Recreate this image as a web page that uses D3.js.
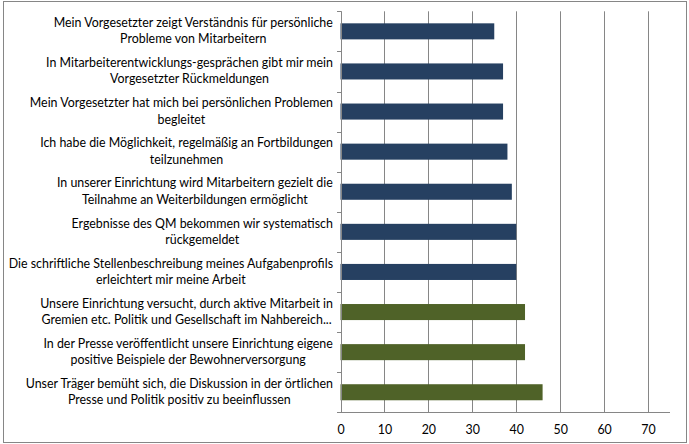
<!DOCTYPE html>
<html><head><meta charset="utf-8">
<script src="https://cdn.jsdelivr.net/npm/d3@7"></script>
<style>body{margin:0;background:#fff}svg{display:block}text{font-family:Lato,"Open Sans",sans-serif;fill:#000}</style>
</head><body>
<svg id="c" width="689" height="444"></svg>
<script>
const labelLines = [
  ["Mein Vorgesetzter zeigt Verständnis für persönliche","Probleme von Mitarbeitern"],
  ["In Mitarbeiterentwicklungs-gesprächen gibt mir mein","Vorgesetzter Rückmeldungen"],
  ["Mein Vorgesetzter hat mich bei persönlichen Problemen","begleitet"],
  ["Ich habe die Möglichkeit, regelmäßig an Fortbildungen","teilzunehmen"],
  ["In unserer Einrichtung wird Mitarbeitern gezielt die","Teilnahme an Weiterbildungen ermöglicht"],
  ["Ergebnisse des QM bekommen wir systematisch","rückgemeldet"],
  ["Die schriftliche Stellenbeschreibung meines Aufgabenprofils","erleichtert mir meine Arbeit"],
  ["Unsere Einrichtung versucht, durch aktive Mitarbeit in","Gremien etc. Politik und Gesellschaft im Nahbereich..."],
  ["In der Presse veröffentlicht unsere Einrichtung eigene","positive Beispiele der Bewohnerversorgung"],
  ["Unser Träger bemüht sich, die Diskussion in der örtlichen","Presse und Politik positiv zu beeinflussen"]
];
const values = [35, 37, 37, 38, 39, 40, 40, 42, 42, 46];
const groups = ["a","a","a","a","a","a","a","b","b","b"];
const xTicks = [0,10,20,30,40,50,60,70];
const xMax = 75;

const svg = d3.select("#c");
const L = 340.5, R = 670, T = 11.3, B = 412.3;
const ids = d3.range(values.length);
const x = d3.scaleLinear().domain([0, xMax]).range([L, R]);
const y = d3.scaleBand().domain(ids).range([T, B]).paddingInner(0.6).paddingOuter(0.3);
const color = d3.scaleOrdinal().domain(["a","b"]).range(["#264061","#4F6228"]);
const grey = "#868686";

svg.append("rect").attr("x",3.5).attr("y",1.5).attr("width",683).attr("height",441)
  .attr("fill","#fff").attr("stroke",grey).attr("stroke-width",1);

// gridlines
svg.append("g").selectAll("line").data(xTicks.filter(d=>d>0)).join("line")
  .attr("x1",d=>Math.round(x(d))+0.5).attr("x2",d=>Math.round(x(d))+0.5)
  .attr("y1",T).attr("y2",B).attr("stroke",grey).attr("stroke-width",1);

// bars
svg.append("g").selectAll("rect").data(ids).join("rect")
  .attr("x",x(0)).attr("y",i=>y(i)).attr("width",i=>x(values[i])-x(0))
  .attr("height",y.bandwidth()).attr("fill",i=>color(groups[i]));

// x axis
const xa = svg.append("g").attr("transform",`translate(0,${Math.round(B)+0.5})`)
  .call(d3.axisBottom(x).tickValues(xTicks).tickSize(0).tickPadding(13).tickFormat(d3.format("d")));
xa.select(".domain").attr("stroke",grey).attr("d",`M${L},0H${R}`);
xa.selectAll("text").attr("font-size",12.4).attr("font-family","Lato,sans-serif").attr("fill","#000");

// y axis line and category ticks
const bounds = d3.range(values.length+1).map(i => T + i*(B-T)/values.length);
svg.append("line").attr("x1",Math.round(L)+0.5).attr("x2",Math.round(L)+0.5).attr("y1",T).attr("y2",B)
  .attr("stroke",grey);
svg.append("g").selectAll("line").data(bounds).join("line")
  .attr("x1",Math.round(L)-4).attr("x2",Math.round(L)+0.5)
  .attr("y1",d=>Math.round(d)+0.5).attr("y2",d=>Math.round(d)+0.5).attr("stroke",grey);

// labels
const lg = svg.append("g");
ids.forEach(i => {
  const cy = y(i) + y.bandwidth()/2;
  const lines = labelLines[i];
  const t = lg.append("text").attr("font-size",12.4).attr("text-anchor","middle");
  lines.forEach((ln,k) => {
    t.append("tspan").attr("x",0).attr("y", cy + 3.8 + (k - (lines.length-1)/2)*16.3).text(ln);
  });
  const w = t.node().getBBox().width;
  t.attr("transform",`translate(${333 - w/2},0)`);
});
</script>
</body></html>
